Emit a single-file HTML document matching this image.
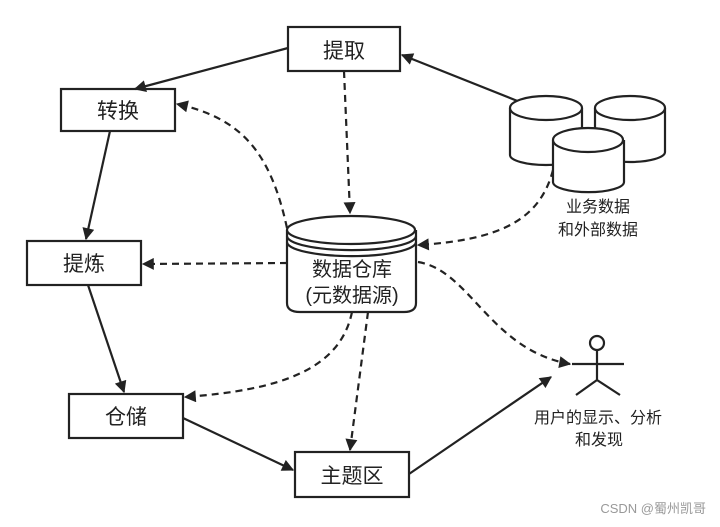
<!DOCTYPE html>
<html><head><meta charset="utf-8"><style>
body{margin:0;background:#fff;}
svg{display:block}
text{font-family:"Liberation Sans","Noto Sans CJK SC",sans-serif;fill:#222}
</style></head><body>
<svg width="720" height="527" viewBox="0 0 720 527">
<defs>
<marker id="a" viewBox="0 0 10 10" refX="9" refY="5" markerWidth="13" markerHeight="12" markerUnits="userSpaceOnUse" orient="auto"><path d="M0,0L10,5L0,10z" fill="#222"/></marker>
</defs>
<g fill="#fff" stroke="#222" stroke-width="2.2">
<rect x="288" y="27" width="112" height="44"/>
<rect x="61" y="89" width="114" height="42"/>
<rect x="27" y="241" width="114" height="44"/>
<rect x="69" y="394" width="114" height="44"/>
<rect x="295" y="452" width="114" height="45"/>
</g>
<g font-size="21" text-anchor="middle">
<text x="344" y="58">提取</text>
<text x="118" y="118">转换</text>
<text x="84" y="271">提炼</text>
<text x="126" y="424">仓储</text>
<text x="352" y="483">主题区</text>
</g>
<g stroke="#222" stroke-width="2.2" fill="none" marker-end="url(#a)">
<path d="M288,48 L135,89"/>
<path d="M110,131 L86,239"/>
<path d="M88,285 L124,392"/>
<path d="M183,418 L293,470"/>
<path d="M409,474 L551,377"/>
<path d="M520,102 L402,55"/>
</g>
<g stroke="#222" stroke-width="2.2" fill="none" stroke-dasharray="7,5" marker-end="url(#a)">
<path d="M344,71 L350,213"/>
<path d="M287,228 C270,150 240,118 177,104"/>
<path d="M287,263 L143,264"/>
<path d="M553,170 C540,220 500,240 418,245"/>
<path d="M352,312 C340,370 280,390 185,397"/>
<path d="M368,312 L350,450"/>
<path d="M418,262 C470,270 490,350 570,364"/>
</g>
<g fill="#fff" stroke="#222" stroke-width="2.2">
<path d="M287,230 L287,303 Q287,312 300,312 L404,312 Q416,312 416,303 L416,230"/>
<ellipse cx="351" cy="230" rx="64" ry="14"/>
<path d="M287,236 A64,14 0 0 0 416,236" fill="none"/>
<path d="M287,242 A64,14 0 0 0 416,242" fill="none"/>
</g>
<text x="352" y="276" font-size="20" text-anchor="middle">数据仓库</text>
<text x="352" y="302" font-size="20" text-anchor="middle">(元数据源)</text>
<g fill="#fff" stroke="#222" stroke-width="2.2">
<path d="M510,108 L510,155 A36,10 0 0 0 582,155 L582,108"/><ellipse cx="546" cy="108" rx="36" ry="12"/>
<path d="M595,108 L595,152 A35,10 0 0 0 665,152 L665,108"/><ellipse cx="630" cy="108" rx="35" ry="12"/>
<path d="M553,140 L553,182 A35,10 0 0 0 624,182 L624,140"/><ellipse cx="588" cy="140" rx="35" ry="12"/>
</g>
<text x="598" y="212" font-size="16" text-anchor="middle">业务数据</text>
<text x="598" y="235" font-size="16" text-anchor="middle">和外部数据</text>
<g stroke="#222" stroke-width="2.2" fill="none">
<circle cx="597" cy="343" r="7" fill="#fff"/>
<path d="M597,350 L597,380 M572,364 L624,364 M597,380 L576,395 M597,380 L620,395"/>
</g>
<text x="598" y="423" font-size="16" text-anchor="middle">用户的显示、分析</text>
<text x="623" y="445" font-size="16" text-anchor="end">和发现</text>
<text x="706" y="513" font-size="13" text-anchor="end" style="fill:#999">CSDN @蜀州凯哥</text>
</svg>
</body></html>
